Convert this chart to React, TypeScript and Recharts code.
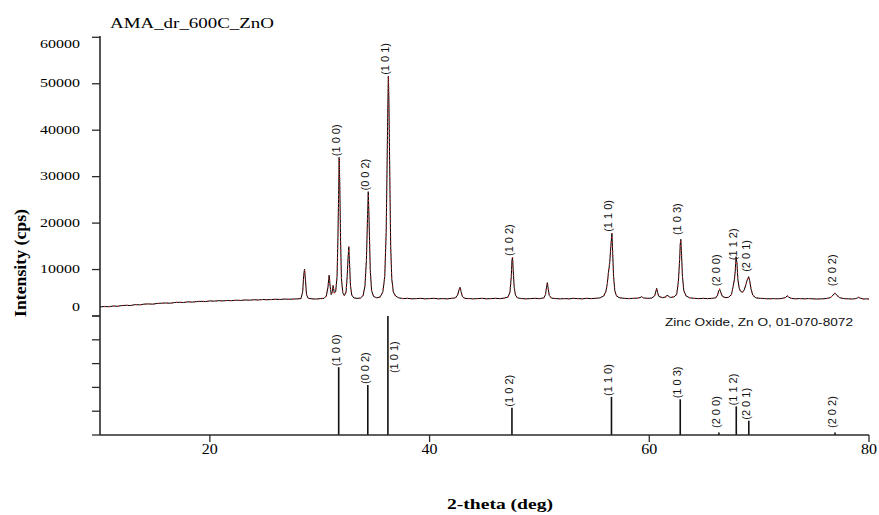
import React from 'react';
import {
  LineChart,
  Line,
  XAxis,
  YAxis,
  ReferenceDot,
  ComposedChart,
  Bar,
  LabelList,
} from 'recharts';

// ---------- data ----------
const hklNames = ['(1 0 0)', '(0 0 2)', '(1 0 1)', '(1 0 2)', '(1 1 0)', '(1 0 3)', '(2 0 0)', '(1 1 2)', '(2 0 1)', '(2 0 2)'];
const refTwoTheta = [31.77, 34.42, 36.25, 47.54, 56.6, 62.86, 66.38, 67.96, 69.1, 76.95];
const refIntensity = [57, 42, 100, 23, 32, 30, 2, 24, 12, 2];
const peakLabelIntensity = [34200, 26800, 51700, 12700, 17900, 17200, 6200, 11800, 9300, 6200];
const yTicks = [0, 10000, 20000, 30000, 40000, 50000, 60000];
const refTicks = [0, 20, 40, 60, 80, 100];
const xTicks = [20, 40, 60, 80];

// measured pattern: [2-theta (deg), intensity (cps)]
const pattern: [number, number][] = [
  [10.0, 1950], [10.4, 2050], [10.8, 2000], [11.2, 2150], [11.6, 2100], [12.0, 2250], [12.4, 2300], [12.8, 2250],
  [13.2, 2450], [13.6, 2400], [14.0, 2550], [14.4, 2600], [14.8, 2550], [15.2, 2700], [15.6, 2750], [16.0, 2800],
  [16.4, 2750], [16.8, 2900], [17.2, 2950], [17.6, 2900], [18.0, 3050], [18.4, 3000], [18.8, 3100], [19.2, 3150],
  [19.6, 3100], [20.0, 3250], [20.4, 3200], [20.8, 3300], [21.2, 3250], [21.6, 3350], [22.0, 3300], [22.4, 3400],
  [22.8, 3350], [23.2, 3450], [23.6, 3400], [24.0, 3500], [24.4, 3450], [24.8, 3550], [25.2, 3500], [25.6, 3550],
  [26.0, 3600], [26.4, 3550], [26.8, 3650], [27.2, 3600], [27.6, 3650], [28.0, 3700], [28.3, 3750], [28.45, 5200],
  [28.55, 9000], [28.62, 10050], [28.7, 7800], [28.8, 4600], [28.95, 3800], [29.3, 3700], [29.7, 3650], [30.1, 3750],
  [30.4, 3800], [30.6, 4300], [30.75, 6200], [30.86, 8800], [30.95, 6400], [31.05, 4600], [31.15, 5200], [31.22, 6600],
  [31.32, 5000], [31.45, 5200], [31.58, 8500], [31.66, 17000], [31.72, 26000], [31.77, 34170], [31.83, 28000], [31.9, 16000],
  [31.98, 8000], [32.1, 5000], [32.25, 4400], [32.4, 5200], [32.5, 8500], [32.58, 12500], [32.65, 14920], [32.72, 11000],
  [32.8, 6500], [32.92, 4500], [33.1, 3900], [33.4, 3800], [33.7, 3850], [33.95, 4400], [34.12, 6500], [34.25, 12000],
  [34.35, 21000], [34.42, 26760], [34.5, 20000], [34.6, 10000], [34.72, 5500], [34.9, 4200], [35.2, 3900], [35.5, 4100],
  [35.75, 5200], [35.92, 8500], [36.05, 18000], [36.13, 32000], [36.2, 45000], [36.25, 51670], [36.3, 46000], [36.38, 30000],
  [36.46, 15000], [36.56, 8000], [36.7, 5200], [36.9, 4300], [37.2, 3900], [37.6, 3750], [38.0, 3800], [38.4, 3700],
  [38.8, 3750], [39.2, 3800], [39.6, 3700], [40.0, 3750], [40.4, 3800], [40.8, 3700], [41.2, 3750], [41.6, 3700],
  [42.0, 3800], [42.35, 3900], [42.55, 4500], [42.68, 5600], [42.77, 6180], [42.86, 5300], [42.98, 4200], [43.2, 3800],
  [43.6, 3750], [44.0, 3700], [44.4, 3750], [44.8, 3800], [45.2, 3700], [45.6, 3750], [46.0, 3800], [46.4, 3750],
  [46.8, 3850], [47.15, 4100], [47.32, 5200], [47.44, 8500], [47.5, 12000], [47.55, 12700], [47.61, 10000], [47.7, 6200],
  [47.82, 4500], [48.0, 3900], [48.4, 3750], [48.8, 3700], [49.2, 3750], [49.6, 3800], [50.0, 3750], [50.4, 3900],
  [50.55, 4600], [50.65, 6200], [50.72, 7170], [50.79, 6000], [50.9, 4400], [51.1, 3850], [51.5, 3750], [51.9, 3700],
  [52.3, 3750], [52.7, 3700], [53.1, 3800], [53.5, 3750], [53.9, 3700], [54.3, 3800], [54.7, 3750], [55.1, 3800],
  [55.5, 3900], [55.85, 4300], [56.05, 5300], [56.18, 7000], [56.28, 9300], [56.4, 11500], [56.5, 15000], [56.6, 17800],
  [56.67, 13500], [56.75, 8500], [56.86, 5500], [57.0, 4400], [57.25, 3950], [57.7, 3800], [58.1, 3750], [58.5, 3800],
  [58.9, 3850], [59.15, 3950], [59.3, 4150], [59.45, 3900], [59.8, 3800], [60.2, 3850], [60.48, 4300], [60.6, 5300],
  [60.67, 5960], [60.75, 5100], [60.88, 4200], [61.2, 3950], [61.5, 4100], [61.62, 4500], [61.72, 4300], [61.9, 4000],
  [62.25, 4100], [62.5, 4700], [62.65, 7500], [62.76, 12000], [62.82, 15500], [62.87, 16510], [62.93, 13500], [63.02, 8500],
  [63.14, 5500], [63.35, 4300], [63.7, 3900], [64.1, 3800], [64.5, 3750], [64.9, 3800], [65.3, 3750], [65.7, 3800],
  [66.05, 3900], [66.22, 4500], [66.32, 5400], [66.4, 5750], [66.5, 5200], [66.63, 4300], [66.9, 3950], [67.2, 4000],
  [67.48, 4600], [67.64, 6400], [67.74, 7800], [67.82, 9500], [67.9, 12770], [67.98, 11500], [68.06, 8000], [68.18, 6000],
  [68.32, 5300], [68.48, 5100], [68.64, 5600], [68.8, 6800], [68.93, 7900], [69.05, 8460], [69.14, 7600], [69.26, 5800],
  [69.42, 4500], [69.7, 3900], [70.1, 3800], [70.5, 3750], [70.9, 3700], [71.3, 3750], [71.7, 3700], [72.1, 3800],
  [72.42, 4000], [72.55, 4370], [72.67, 4100], [72.9, 3800], [73.3, 3700], [73.7, 3750], [74.1, 3700], [74.5, 3750],
  [74.9, 3700], [75.3, 3650], [75.7, 3700], [76.1, 3750], [76.5, 3950], [76.72, 4500], [76.9, 4890], [77.08, 4500],
  [77.3, 3950], [77.7, 3750], [78.1, 3700], [78.5, 3650], [78.88, 3800], [79.05, 4030], [79.2, 3850], [79.5, 3650],
  [79.8, 3700], [80.0, 3650],
];

const rows = pattern.map(([tt, I]) => ({ tt, I }));
const stickRows = refTwoTheta.map((tt, i) => ({ tt, h: refIntensity[i], hkl: hklNames[i] }));

// ---------- styles ----------
const SERIF = "'Liberation Serif', 'Times New Roman', serif";
const SANS = "'Liberation Sans', Arial, sans-serif";
const FRAME = '#2a2a2a';
const axisLineStyle = { stroke: FRAME, strokeWidth: 1.6 };
const tickLineStyle = { stroke: FRAME, strokeWidth: 1.3 };

function EmptyTick() {
  return <g />;
}

function YTick(props: any) {
  const { x, y, payload } = props;
  const v = payload.value as number;
  const s = String(v);
  let dy = 3.5;
  if (v === 60000) dy = 11;
  if (v === 0) dy = -5.5;
  return (
    <text
      x={x - 10}
      y={y + dy}
      textAnchor="end"
      fontFamily={SERIF}
      fontSize={13}
      fill="#000"
      textLength={s.length * 8}
      lengthAdjust="spacingAndGlyphs"
    >
      {s}
    </text>
  );
}

function XTick(props: any) {
  const { x, y, payload } = props;
  const s = String(payload.value);
  return (
    <text
      x={x}
      y={y + 10}
      textAnchor="middle"
      fontFamily={SERIF}
      fontSize={14}
      fill="#000"
      textLength={s.length * 8}
      lengthAdjust="spacingAndGlyphs"
    >
      {s}
    </text>
  );
}

function PeakLabel(props: any) {
  const vb = props.viewBox || props;
  const cx = vb.x + (vb.width || 0) / 2;
  const cy = vb.y + (vb.height || 0) / 2;
  return (
    <text
      transform={`translate(${cx + 0.5},${cy - 1}) rotate(-90)`}
      fontFamily={SANS}
      fontSize={11}
      fill="#111"
    >
      {props.hkl}
    </text>
  );
}

function StickLabel(p: any) {
  const vb = p.viewBox && p.viewBox.width !== undefined ? p.viewBox : p;
  const row = stickRows.find((r) => r.hkl === p.value);
  const cx = vb.x + vb.width / 2;
  const bottom = vb.y + vb.height;
  let bx = cx + 1;
  let by = Math.min(vb.y - 1, bottom - 7);
  if (row && row.h >= 100) {
    bx = cx + 10;
    by = vb.y + vb.height * 0.48;
  }
  return (
    <text
      transform={`translate(${bx},${by}) rotate(-90)`}
      fontFamily={SANS}
      fontSize={11}
      fill="#111"
    >
      {p.value}
    </text>
  );
}

export default function App() {
  return (
    <div style={{ position: 'absolute', left: 0, top: 0, width: 879, height: 515, background: '#fff' }}>
      <div style={{ position: 'absolute', left: 0, top: 0 }}>
        <LineChart width={879} height={320} data={rows} margin={{ top: 36, right: 10, bottom: 4, left: 40 }}>
          <XAxis
            xAxisId="b"
            dataKey="tt"
            type="number"
            domain={[10, 80]}
            allowDataOverflow
            height={0}
            tick={false}
            tickLine={false}
            axisLine={axisLineStyle}
          />
          <XAxis
            xAxisId="t"
            dataKey="tt"
            orientation="top"
            type="number"
            domain={[10, 80]}
            allowDataOverflow
            height={0}
            tick={false}
            tickLine={false}
            axisLine={axisLineStyle}
          />
          <YAxis
            yAxisId="l"
            type="number"
            domain={[0, 60280]}
            allowDataOverflow
            ticks={yTicks}
            interval={0}
            tickSize={8}
            width={60}
            tick={<YTick />}
            axisLine={axisLineStyle}
            tickLine={tickLineStyle}
          />
          <YAxis
            yAxisId="r"
            orientation="right"
            type="number"
            domain={[0, 1]}
            width={0}
            tick={false}
            tickLine={false}
            axisLine={axisLineStyle}
          />
          <Line
            xAxisId="b"
            yAxisId="l"
            type="linear"
            dataKey="I"
            stroke="#000"
            strokeWidth={1}
            dot={false}
            isAnimationActive={false}
          />
          <Line
            xAxisId="b"
            yAxisId="l"
            type="linear"
            dataKey="I"
            stroke="#e03030"
            strokeWidth={1.3}
            strokeDasharray="1 3.5"
            dot={false}
            isAnimationActive={false}
          />
          {hklNames.map((h, i) => (
            <ReferenceDot
              key={h}
              xAxisId="b"
              yAxisId="l"
              x={refTwoTheta[i]}
              y={peakLabelIntensity[i]}
              r={1}
              fill="none"
              stroke="none"
              ifOverflow="visible"
              label={<PeakLabel hkl={h} />}
            />
          ))}
        </LineChart>
      </div>
      <div style={{ position: 'absolute', left: 0, top: 300 }}>
        <ComposedChart width={879} height={215} data={stickRows} margin={{ top: 16, right: 10, bottom: 50, left: 40 }}>
          <XAxis
            dataKey="tt"
            type="number"
            domain={[10, 80]}
            allowDataOverflow
            ticks={xTicks}
            interval={0}
            tickSize={7}
            height={30}
            tick={<XTick />}
            axisLine={axisLineStyle}
            tickLine={tickLineStyle}
          />
          <XAxis
            xAxisId="t"
            dataKey="tt"
            orientation="top"
            type="number"
            domain={[10, 80]}
            allowDataOverflow
            height={0}
            tick={false}
            tickLine={false}
            axisLine={axisLineStyle}
          />
          <YAxis
            type="number"
            domain={[0, 100]}
            allowDataOverflow
            ticks={refTicks}
            interval={0}
            tickSize={8}
            width={60}
            tick={<EmptyTick />}
            axisLine={axisLineStyle}
            tickLine={tickLineStyle}
          />
          <YAxis
            yAxisId="r"
            orientation="right"
            type="number"
            domain={[0, 1]}
            width={0}
            tick={false}
            tickLine={false}
            axisLine={axisLineStyle}
          />
          <Bar dataKey="h" barSize={1.6} fill="#111" isAnimationActive={false}>
            <LabelList dataKey="hkl" content={(p: any) => <StickLabel {...p} />} />
          </Bar>
        </ComposedChart>
      </div>
      <svg
        width={879}
        height={515}
        style={{ position: 'absolute', left: 0, top: 0, pointerEvents: 'none' }}
      >
        <text x={110} y={28} fontFamily={SERIF} fontSize={15} fill="#000" textLength={164} lengthAdjust="spacingAndGlyphs">
          AMA_dr_600C_ZnO
        </text>
        <text
          transform="translate(26,263) rotate(-90)"
          textAnchor="middle"
          fontFamily={SERIF}
          fontWeight="bold"
          fontSize={16}
          fill="#000"
          textLength={108}
          lengthAdjust="spacingAndGlyphs"
        >
          Intensity (cps)
        </text>
        <text
          x={500}
          y={509}
          textAnchor="middle"
          fontFamily={SERIF}
          fontWeight="bold"
          fontSize={15}
          fill="#000"
          textLength={106}
          lengthAdjust="spacingAndGlyphs"
        >
          2-theta (deg)
        </text>
        <text x={665} y={326} fontFamily={SANS} fontSize={11} fill="#111" textLength={188} lengthAdjust="spacingAndGlyphs">
          Zinc Oxide, Zn O, 01-070-8072
        </text>
      </svg>
    </div>
  );
}
